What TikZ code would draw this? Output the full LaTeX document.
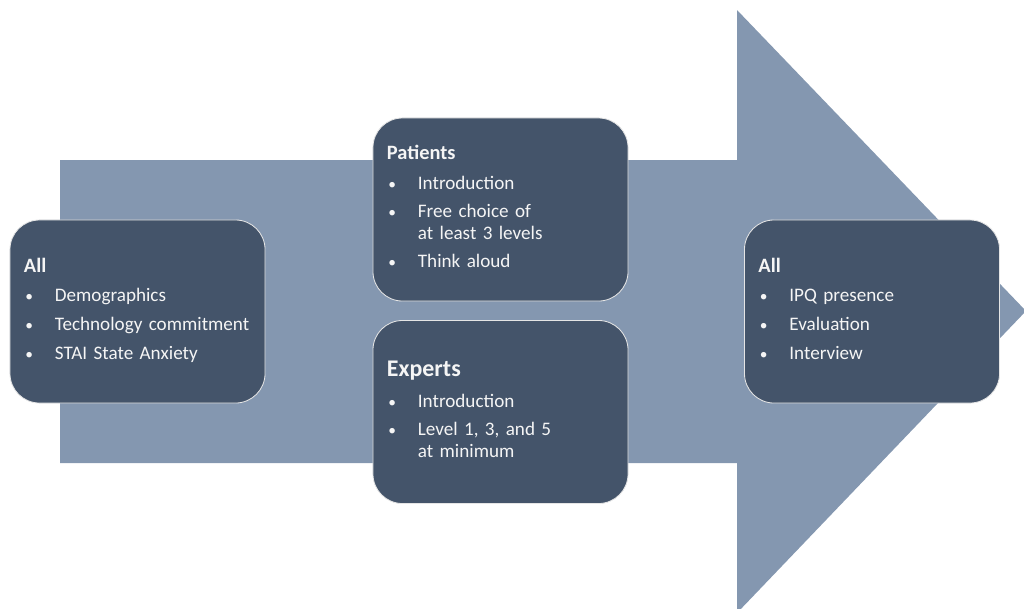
\documentclass[tikz,border=0pt]{standalone}
\usepackage{fontspec}
\setmainfont{Carlito}[WordSpace=0.9]
\usetikzlibrary{positioning}
\definecolor{arrowblue}{HTML}{8497B0}
\definecolor{boxslate}{HTML}{44546A}
\tikzset{
  phase/.style={draw=white!80!gray, line width=0.6pt, fill=boxslate, text=white!96!black,
    rounded corners=21pt, minimum width=6.375cm, minimum height=4.575cm,
    text width=5.675cm, inner xsep=0.35cm, align=left,
    font=\fontsize{13.6}{15}\selectfont}
}
\newcommand{\bul}{\hspace{1pt}{\fontsize{11}{15}\selectfont\textbullet}}
\begin{document}
\begin{tikzpicture}[x=0.025cm,y=-0.025cm]
    \useasboundingbox (0,0) rectangle (1024,608);
    \clip (0,0) rectangle (1024,608);
    % Panah
    \fill[arrowblue] (60,160) -- (737,160) -- (737,10) -- (1026,311)
        -- (737,613) -- (737,463) -- (60,463) -- cycle;
    % Awal
    \node[phase] (pre) at (137.5,311.5) {%
      \begin{tabular}{@{}p{22pt}@{}l@{}}
      \multicolumn{2}{@{}l}{\fontsize{14.5}{15}\selectfont\bfseries All}\\[6pt]
      \bul & Demographics\\[5.5pt]
      \bul & Technology commitment\\[5.5pt]
      \bul & STAI State Anxiety
      \end{tabular}};
    % Pasien
    \node[phase] (pat) at (500.5,209.5) {%
      \begin{tabular}{@{}p{22pt}@{}l@{}}
      \multicolumn{2}{@{}l}{\fontsize{14.5}{15}\selectfont\bfseries Patients}\\[6pt]
      \bul & Introduction\\[5.5pt]
      \bul & Free choice of\\
           & at least 3 levels\\[5.5pt]
      \bul & Think aloud
      \end{tabular}};
    % Ahli
    \node[phase] (exp) at (500.5,412) {%
      \begin{tabular}{@{}p{22pt}@{}l@{}}
      \multicolumn{2}{@{}l}{\fontsize{17}{15}\selectfont\bfseries Experts}\\[7pt]
      \bul & Introduction\\[5.5pt]
      \bul & Level 1, 3, and 5\\
           & at minimum
      \end{tabular}};
    % Akhir
    \node[phase] (post) at (872,311.5) {%
      \begin{tabular}{@{}p{22pt}@{}l@{}}
      \multicolumn{2}{@{}l}{\fontsize{14.5}{15}\selectfont\bfseries All}\\[6pt]
      \bul & IPQ presence\\[5.5pt]
      \bul & Evaluation\\[5.5pt]
      \bul & Interview
      \end{tabular}};
\end{tikzpicture}
\end{document}
